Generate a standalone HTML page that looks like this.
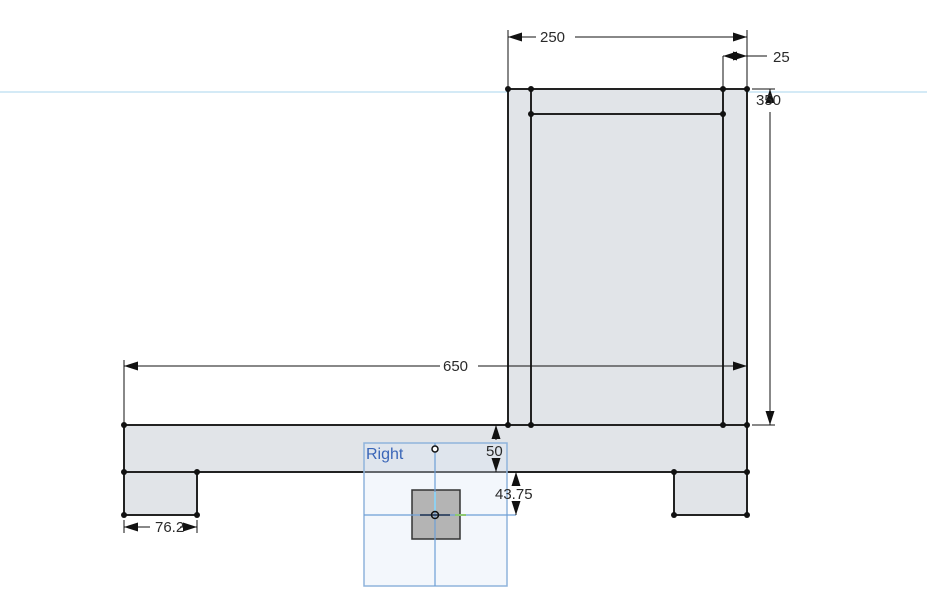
<!DOCTYPE html>
<html><head><meta charset="utf-8"><style>
html,body{margin:0;padding:0;background:#fff;width:927px;height:608px;overflow:hidden}
text{font-family:"Liberation Sans",sans-serif;font-size:15px;fill:#2a2a2a}
</style></head><body>
<svg width="927" height="608" viewBox="0 0 927 608" xmlns="http://www.w3.org/2000/svg">
<defs>
<marker id="a" viewBox="0 0 14 10" refX="14" refY="5" markerWidth="14" markerHeight="10" orient="auto-start-reverse" markerUnits="userSpaceOnUse"><path d="M0,0.5 L14,5 L0,9.5 z" fill="#111"/></marker>
</defs>
<line x1="0" y1="92" x2="927" y2="92" stroke="#a8d4ec" stroke-width="1"/>
<g fill="#e1e4e8" stroke="#222" stroke-width="2">
<rect x="508" y="89" width="239" height="336"/>
<rect x="124" y="425" width="623" height="47"/>
<rect x="124" y="472" width="73" height="43"/>
<rect x="674" y="472" width="73" height="43"/>
</g>
<g stroke="#222" stroke-width="2" fill="none">
<line x1="531" y1="89" x2="531" y2="425"/>
<line x1="723" y1="89" x2="723" y2="425"/>
<line x1="531" y1="114" x2="723" y2="114"/>
</g>
<g fill="#111">
<circle cx="508" cy="89" r="3"/><circle cx="531" cy="89" r="3"/><circle cx="723" cy="89" r="3"/><circle cx="747" cy="89" r="3"/>
<circle cx="531" cy="114" r="3"/><circle cx="723" cy="114" r="3"/>
<circle cx="508" cy="425" r="3"/><circle cx="531" cy="425" r="3"/><circle cx="723" cy="425" r="3"/><circle cx="747" cy="425" r="3"/>
<circle cx="124" cy="425" r="3"/>
<circle cx="124" cy="472" r="3"/><circle cx="197" cy="472" r="3"/><circle cx="674" cy="472" r="3"/><circle cx="747" cy="472" r="3"/>
<circle cx="124" cy="515" r="3"/><circle cx="197" cy="515" r="3"/><circle cx="674" cy="515" r="3"/><circle cx="747" cy="515" r="3"/>
</g>
<rect x="364" y="443" width="143" height="143" fill="rgba(220,232,245,0.35)" stroke="#8fb4dc" stroke-width="1.5"/>
<text x="366" y="459" style="fill:#3a66b8;font-size:16px">Right</text>
<rect x="412" y="490" width="48" height="49" fill="#b4b4b4" stroke="#333" stroke-width="1.5"/>
<line x1="435" y1="443" x2="435" y2="586" stroke="#6d9fd6" stroke-width="1.2"/>
<line x1="364" y1="515" x2="516" y2="515" stroke="#6d9fd6" stroke-width="1.2"/>
<line x1="435" y1="492" x2="435" y2="512" stroke="#8fd0f0" stroke-width="2"/>
<line x1="420" y1="515" x2="450" y2="515" stroke="#1c3050" stroke-width="1.5"/>
<line x1="455" y1="515" x2="466" y2="515" stroke="#8cc870" stroke-width="2"/>
<circle cx="435" cy="515" r="3.5" fill="none" stroke="#111" stroke-width="1.5"/>
<circle cx="435" cy="449" r="3" fill="#fff" stroke="#111" stroke-width="1.5"/>
<g stroke="#111" stroke-width="1" fill="none">
<line x1="508" y1="30" x2="508" y2="87"/><line x1="747" y1="30" x2="747" y2="87"/>
<line x1="508" y1="37" x2="536" y2="37" marker-start="url(#a)"/><line x1="575" y1="37" x2="747" y2="37" marker-end="url(#a)"/>
<line x1="723" y1="56" x2="723" y2="87"/>
<line x1="723" y1="56" x2="747" y2="56" marker-start="url(#a)" marker-end="url(#a)"/>
<line x1="747" y1="56" x2="767" y2="56"/>
<line x1="752" y1="89" x2="775" y2="89"/><line x1="752" y1="425" x2="775" y2="425"/>
<line x1="770" y1="112" x2="770" y2="425" marker-end="url(#a)"/>
<line x1="770" y1="104" x2="770" y2="89" marker-end="url(#a)"/>
<line x1="124" y1="360" x2="124" y2="423"/>
<line x1="124" y1="366" x2="440" y2="366" marker-start="url(#a)"/>
<line x1="478" y1="366" x2="747" y2="366" marker-end="url(#a)"/>
<line x1="496" y1="425" x2="496" y2="440" marker-start="url(#a)"/>
<line x1="496" y1="458" x2="496" y2="472" marker-end="url(#a)"/>
<line x1="516" y1="472" x2="516" y2="486" marker-start="url(#a)"/>
<line x1="516" y1="502" x2="516" y2="515" marker-end="url(#a)"/>
<line x1="124" y1="520" x2="124" y2="533"/><line x1="197" y1="520" x2="197" y2="533"/>
<line x1="124" y1="527" x2="150" y2="527" marker-start="url(#a)"/>
<line x1="180" y1="527" x2="197" y2="527" marker-end="url(#a)"/>
</g>
<text x="540" y="42">250</text>
<text x="773" y="62">25</text>
<text x="756" y="105">350</text>
<text x="443" y="371">650</text>
<text x="486" y="456">50</text>
<text x="495" y="499">43.75</text>
<text x="155" y="532">76.2</text>
</svg>
</body></html>
